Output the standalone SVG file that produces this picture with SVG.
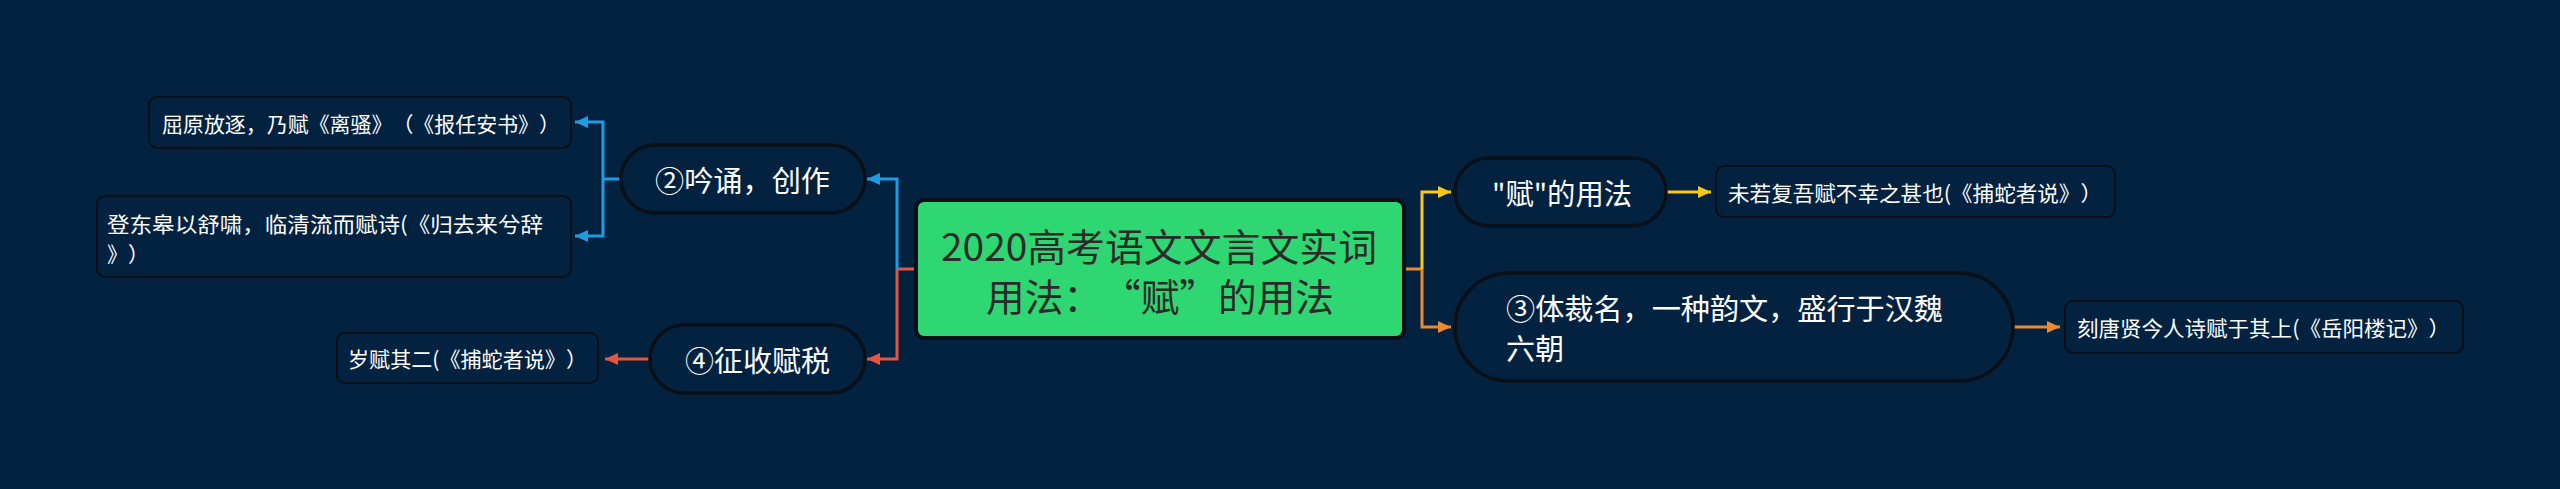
<svg xmlns="http://www.w3.org/2000/svg" width="2560" height="489" viewBox="0 0 2560 489">
<defs>
<style>
.t{font-family:"Noto Sans CJK SC","Noto Sans",sans-serif;fill:#ffffff;dominant-baseline:central;text-spacing-trim:space-all}
.pill{fill:#03223f;stroke:#0a0f18;stroke-width:3.5}
.leaf{fill:#03223f;stroke:#0a0f18;stroke-width:2}
.c{fill:none;stroke-width:3}
.big{font-size:29px}
.sm{font-size:21px}
</style>
<marker id="aB" markerUnits="userSpaceOnUse" markerWidth="14" markerHeight="14" refX="13" refY="7" orient="auto"><path d="M0,1 L13,7 L0,13 Z" fill="#1f9be3"/></marker>
<marker id="aR" markerUnits="userSpaceOnUse" markerWidth="14" markerHeight="14" refX="13" refY="7" orient="auto"><path d="M0,1 L13,7 L0,13 Z" fill="#e8553f"/></marker>
<marker id="aY" markerUnits="userSpaceOnUse" markerWidth="14" markerHeight="14" refX="13" refY="7" orient="auto"><path d="M0,1 L13,7 L0,13 Z" fill="#f5c81d"/></marker>
<marker id="aO" markerUnits="userSpaceOnUse" markerWidth="14" markerHeight="14" refX="13" refY="7" orient="auto"><path d="M0,1 L13,7 L0,13 Z" fill="#e98a2f"/></marker>
</defs>
<rect x="0" y="0" width="2560" height="489" fill="#03223f"/>
<g id="connectors">
<path class="c" stroke="#e8553f" d="M916,269 H897"/>
<path class="c" stroke="#1f9be3" d="M897,269 V179 H867" marker-end="url(#aB)"/>
<path class="c" stroke="#e8553f" d="M897,269 V359 H867" marker-end="url(#aR)"/>
<path class="c" stroke="#1f9be3" d="M621,179 H603"/>
<path class="c" stroke="#1f9be3" d="M603,179 V122 H575" marker-end="url(#aB)"/>
<path class="c" stroke="#1f9be3" d="M603,179 V236 H575" marker-end="url(#aB)"/>
<path class="c" stroke="#e8553f" d="M650,359 H605" marker-end="url(#aR)"/>
<path class="c" stroke="#e98a2f" d="M1404,269 H1422"/>
<path class="c" stroke="#f5c81d" d="M1422,269 V192 H1451" marker-end="url(#aY)"/>
<path class="c" stroke="#e98a2f" d="M1422,269 V327 H1451" marker-end="url(#aO)"/>
<path class="c" stroke="#f5c81d" d="M1666,192 H1711" marker-end="url(#aY)"/>
<path class="c" stroke="#e98a2f" d="M2013,327 H2060" marker-end="url(#aO)"/>
</g>
<g id="root">
<rect x="916" y="200" width="488" height="138" rx="8" fill="#2fd773" stroke="#0a0f18" stroke-width="4"/>
<text class="t" x="941" y="244" font-size="38" textLength="436" lengthAdjust="spacingAndGlyphs" style="fill:#2b2b2b">2020高考语文文言文实词</text>
<text class="t" x="986" y="294" font-size="38" textLength="348" lengthAdjust="spacingAndGlyphs" style="fill:#2b2b2b">用法：“赋”的用法</text>
</g>
<g id="n2">
<rect class="pill" x="621" y="145" width="244" height="68" rx="34"/>
<text class="t big" x="655" y="179" textLength="175" lengthAdjust="spacingAndGlyphs">②吟诵，创作</text>
</g>
<g id="n2a">
<rect class="leaf" x="149" y="97" width="422" height="51" rx="8"/>
<text class="t sm" x="162" y="123" textLength="398" lengthAdjust="spacingAndGlyphs">屈原放逐，乃赋《离骚》（《报任安书》）</text>
</g>
<g id="n2b">
<rect class="leaf" x="97" y="196" width="474" height="81" rx="8"/>
<text class="t sm" x="107" y="223" textLength="436" lengthAdjust="spacingAndGlyphs">登东皋以舒啸，临清流而赋诗(《归去来兮辞</text>
<text class="t sm" x="107" y="253">》）</text>
</g>
<g id="n4">
<rect class="pill" x="650" y="325" width="215" height="68" rx="34"/>
<text class="t big" x="685" y="359" textLength="145" lengthAdjust="spacingAndGlyphs">④征收赋税</text>
</g>
<g id="n4a">
<rect class="leaf" x="337" y="333" width="261" height="50" rx="8"/>
<text class="t sm" x="348" y="358" textLength="239" lengthAdjust="spacingAndGlyphs">岁赋其二(《捕蛇者说》）</text>
</g>
<g id="n1">
<rect class="pill" x="1455" y="158" width="211" height="68" rx="34"/>
<text class="t big" x="1492" y="192" textLength="140" lengthAdjust="spacingAndGlyphs">"赋"的用法</text>
</g>
<g id="n1a">
<rect class="leaf" x="1716" y="166" width="399" height="51" rx="8"/>
<text class="t sm" x="1728" y="192" textLength="374" lengthAdjust="spacingAndGlyphs">未若复吾赋不幸之甚也(《捕蛇者说》）</text>
</g>
<g id="n3">
<rect class="pill" x="1455" y="273" width="558" height="108" rx="54"/>
<text class="t big" x="1506" y="307" textLength="437" lengthAdjust="spacingAndGlyphs">③体裁名，一种韵文，盛行于汉魏</text>
<text class="t big" x="1506" y="347">六朝</text>
</g>
<g id="n3a">
<rect class="leaf" x="2065" y="301" width="398" height="52" rx="8"/>
<text class="t sm" x="2077" y="327" textLength="373" lengthAdjust="spacingAndGlyphs">刻唐贤今人诗赋于其上(《岳阳楼记》）</text>
</g>
</svg>
